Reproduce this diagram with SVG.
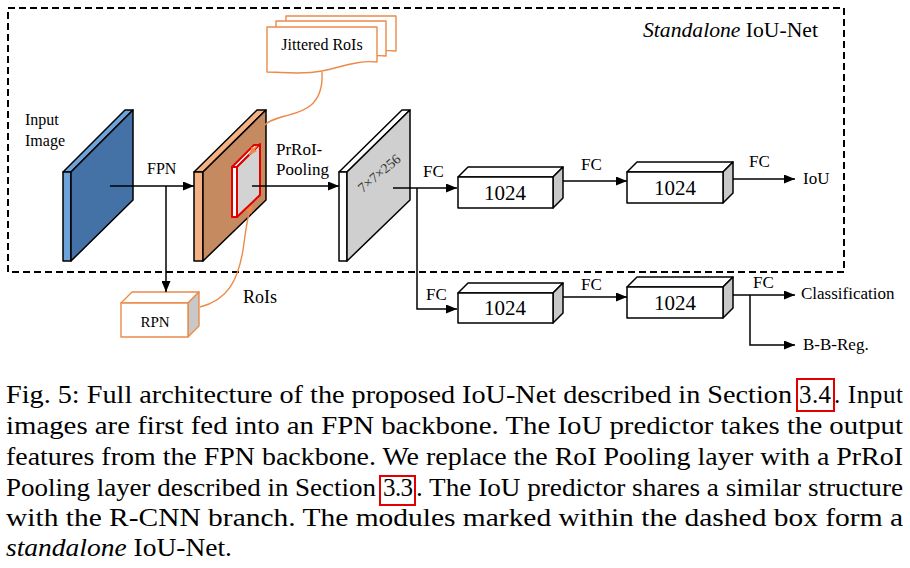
<svg xmlns="http://www.w3.org/2000/svg" width="910" height="568" viewBox="0 0 910 568">
<style>
text{font-family:'Liberation Serif','Times New Roman',serif}
.lbl{font-size:17px}
.num{font-size:21px;text-anchor:middle}
.cap{font-size:25px}
.edge{fill:none;stroke:#000;stroke-width:1.5}
.oedge{fill:none;stroke:#ec8a48;stroke-width:1.4}
.slab{stroke:#000;stroke-width:1.5;stroke-linejoin:round}
.box{fill:#fff;stroke:#000;stroke-width:1.5;stroke-linejoin:round}
.side{fill:#c8c8c8;stroke:#000;stroke-width:1.5;stroke-linejoin:round}
.obox{fill:#fff;stroke:#ec8a48;stroke-width:1.4;stroke-linejoin:round}
.oside{fill:#c8c8c8;stroke:#ec8a48;stroke-width:1.4;stroke-linejoin:round}
.ref{fill:none;stroke:#e00000;stroke-width:2}
.roi{stroke:#e00000;stroke-width:2;stroke-linejoin:round}
</style>
<defs>
<marker id="ah" markerUnits="userSpaceOnUse" markerWidth="11" markerHeight="9" refX="11" refY="4.5" orient="auto">
<path d="M0,0 L11,4.5 L0,9 Z" fill="#000"/>
</marker>
<marker id="oah" markerUnits="userSpaceOnUse" markerWidth="8" markerHeight="7" refX="8" refY="3.5" orient="auto">
<path d="M0,0 L8,3.5 L0,7 Z" fill="#ec8a48"/>
</marker>
<path id="doc" d="M0,0 H110 V35 C90,33 75,40 55,44 C35,48 15,45 0,45 Z"/>
</defs>

<rect x="8" y="8" width="836" height="264" fill="none" stroke="#000" stroke-width="2" stroke-dasharray="7,4"/>
<text x="643" y="37" font-size="21" textLength="175" lengthAdjust="spacingAndGlyphs"><tspan font-style="italic">Standalone</tspan> IoU-Net</text>

<g id="input-image">
<polygon class="slab" fill="#6ea3da" points="63,172 125,110 133,110 71,172"/>
<polygon class="slab" fill="#6ea3da" points="63,172 71,172 71,261 63,261"/>
<polygon class="slab" fill="#4471a6" points="71,172 133,110 133,200 71,261"/>
<text x="25" y="125" font-size="16">Input</text>
<text x="25" y="146" font-size="16">Image</text>
</g>

<g id="fpn-features">
<polygon class="slab" fill="#f4b183" points="194,172 257,110 266,110 203,172"/>
<polygon class="slab" fill="#f4b183" points="194,172 203,172 203,261 194,261"/>
<polygon class="slab" fill="#c58a60" points="203,172 266,110 266,200 203,261"/>
<polygon class="roi" fill="#fff" points="232,167 254,145 259,145 237,167"/>
<polygon class="roi" fill="#fff" points="232,167 237,167 237,217 232,217"/>
<polygon class="roi" fill="#d3d3d3" points="237,167 260,144 260,195 237,217"/>
</g>

<g id="pooled">
<polygon class="slab" fill="#fff" points="339,172 402,110 410,110 347,172"/>
<polygon class="slab" fill="#fff" points="339,172 347,172 347,261 339,261"/>
<polygon class="slab" fill="#cfcfcf" points="347,172 410,110 410,200 347,261"/>
<text x="379" y="178" transform="rotate(-40 379 173)" font-size="14" fill="#333" text-anchor="middle">7×7×256</text>
</g>

<g id="jittered-rois">
<use href="#doc" class="obox" transform="translate(286,16)"/>
<use href="#doc" class="obox" transform="translate(276,21)"/>
<use href="#doc" class="obox" transform="translate(267,27)"/>
<text x="322" y="50" font-size="16" text-anchor="middle">Jittered RoIs</text>
</g>

<g id="rpn">
<polygon class="obox" points="121,303 132,292 199,292 188,303"/>
<polygon class="oside" points="188,303 199,292 199,326 188,337"/>
<rect class="obox" x="121" y="303" width="67" height="34"/>
<text x="155" y="327" font-size="15" text-anchor="middle">RPN</text>
</g>

<g id="fc-top-1">
<polygon class="box" points="458,177 468,167 563,167 553,177"/>
<polygon class="side" points="553,177 563,167 563,198 553,208"/>
<rect class="box" x="458" y="177" width="95" height="31"/>
<text class="num" x="505" y="200">1024</text>
</g>
<g id="fc-top-2">
<polygon class="box" points="627,172 637,162 733,162 723,172"/>
<polygon class="side" points="723,172 733,162 733,193 723,203"/>
<rect class="box" x="627" y="172" width="96" height="31"/>
<text class="num" x="675" y="195">1024</text>
</g>
<g id="fc-bot-1">
<polygon class="box" points="458,293 468,283 563,283 553,293"/>
<polygon class="side" points="553,293 563,283 563,313 553,323"/>
<rect class="box" x="458" y="293" width="95" height="30"/>
<text class="num" x="505" y="315">1024</text>
</g>
<g id="fc-bot-2">
<polygon class="box" points="627,287 637,277 733,277 723,287"/>
<polygon class="side" points="723,287 733,277 733,308 723,318"/>
<rect class="box" x="627" y="287" width="96" height="31"/>
<text class="num" x="675" y="310">1024</text>
</g>

<g id="outputs">
<text class="lbl" x="803" y="184">IoU</text>
<text class="lbl" x="801" y="299">Classification</text>
<text class="lbl" x="803" y="350">B-B-Reg.</text>
</g>

<g id="connectors">
<path class="edge" d="M110,186 H194" marker-end="url(#ah)"/>
<path class="edge" d="M166,186 V292" marker-end="url(#ah)"/>
<path class="edge" d="M252,186 H339" marker-end="url(#ah)"/>
<path class="edge" d="M393,188 H457" marker-end="url(#ah)"/>
<path class="edge" d="M417,188 V309 H457" marker-end="url(#ah)"/>
<path class="edge" d="M563,181 H627" marker-end="url(#ah)"/>
<path class="edge" d="M733,179 H795" marker-end="url(#ah)"/>
<path class="edge" d="M563,297 H627" marker-end="url(#ah)"/>
<path class="edge" d="M733,295 H795" marker-end="url(#ah)"/>
<path class="edge" d="M750,295 V345 H795" marker-end="url(#ah)"/>
<path class="oedge" d="M322,72 C324,108 300,112 285,116 C275,119 268,121 265,125"/>
<path class="oedge" d="M257,146 L249,155" marker-end="url(#oah)"/>
<path class="oedge" d="M200,307 C228,300 238,280 243,250 C246,230 247,215 252,205" marker-end="url(#oah)"/>
<text x="147" y="174" font-size="16">FPN</text>
<text class="lbl" x="276" y="155">PrRoI-</text>
<text class="lbl" x="276" y="175">Pooling</text>
<text x="243" y="303" font-size="18">RoIs</text>
<text class="lbl" x="423" y="177">FC</text>
<text class="lbl" x="581" y="170">FC</text>
<text class="lbl" x="749" y="167">FC</text>
<text class="lbl" x="426" y="300">FC</text>
<text class="lbl" x="581" y="290">FC</text>
<text class="lbl" x="753" y="288">FC</text>
</g>

<g id="caption">
<text class="cap" x="6" y="403" textLength="786" lengthAdjust="spacingAndGlyphs">Fig. 5: Full architecture of the proposed IoU-Net described in Section</text>
<text class="cap" x="799" y="403" textLength="32" lengthAdjust="spacing">3.4</text>
<text class="cap" x="834" y="403" textLength="69" lengthAdjust="spacing">. Input</text>
<rect class="ref" x="797" y="379" width="37" height="32"/>
<text class="cap" x="6" y="434" textLength="897" lengthAdjust="spacingAndGlyphs">images are first fed into an FPN backbone. The IoU predictor takes the output</text>
<text class="cap" x="6" y="465" textLength="897" lengthAdjust="spacingAndGlyphs">features from the FPN backbone. We replace the RoI Pooling layer with a PrRoI</text>
<text class="cap" x="6" y="496" textLength="370" lengthAdjust="spacingAndGlyphs">Pooling layer described in Section</text>
<text class="cap" x="383" y="496" textLength="30" lengthAdjust="spacing">3.3</text>
<text class="cap" x="416" y="496" textLength="487" lengthAdjust="spacingAndGlyphs">. The IoU predictor shares a similar structure</text>
<rect class="ref" x="380" y="476" width="35" height="29"/>
<text class="cap" x="6" y="526" textLength="897" lengthAdjust="spacingAndGlyphs">with the R-CNN branch. The modules marked within the dashed box form a</text>
<text class="cap" x="6" y="556" textLength="226" lengthAdjust="spacingAndGlyphs"><tspan font-style="italic">standalone</tspan> IoU-Net.</text>
</g>
</svg>
